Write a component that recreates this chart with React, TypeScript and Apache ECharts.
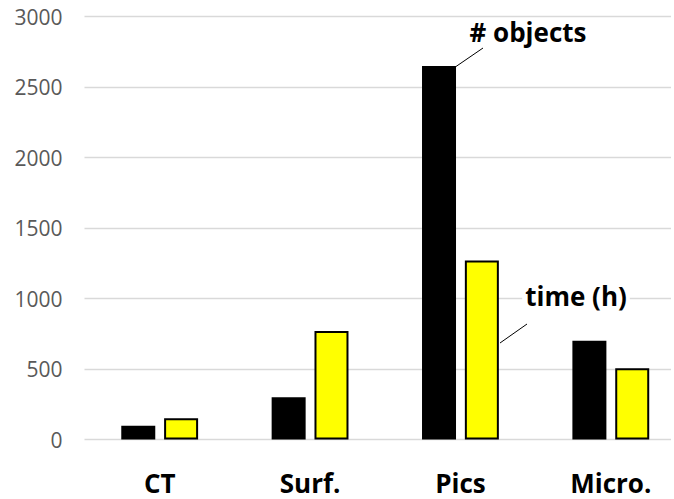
import React, { useEffect, useRef } from "react";
import * as echarts from "echarts";

const categories = ["CT", "Surf.", "Pics", "Micro."];
const objectsValues = [97, 300, 2650, 700];
const timeValues = [150, 770, 1270, 505];
const yTicks = { min: 0, max: 3000, interval: 500 };
const annotations = [
  { text: "# objects", x: 528, y: 32, line: [483, 48, 456, 66.5] },
  { text: "time (h)", x: 576, y: 296, line: [527, 324, 500, 343] },
];

const FONT = "'Open Sans', 'Noto Sans', sans-serif";

export default function App() {
  const ref = useRef<HTMLDivElement>(null);
  useEffect(() => {
    if (!ref.current) return;
    const chart = echarts.init(ref.current, undefined, { renderer: "svg" });
    const graphics: any[] = [];
    annotations.forEach((a) => {
      graphics.push({
        type: "text",
        x: a.x,
        y: a.y,
        z: 100,
        style: {
          text: a.text,
          fill: "#000",
          font: `bold 26px ${FONT}`,
          textAlign: "center",
          textVerticalAlign: "middle",
          backgroundColor: "#fff",
          padding: [0, 3],
        },
      });
      graphics.push({
        type: "line",
        z: 100,
        shape: { x1: a.line[0], y1: a.line[1], x2: a.line[2], y2: a.line[3] },
        style: { stroke: "#000", lineWidth: 1 },
      });
    });
    chart.setOption({
      animation: false,
      backgroundColor: "#fff",
      grid: { left: 84.5, right: 14, top: 16.7, bottom: 59.5, containLabel: false },
      xAxis: {
        type: "category",
        data: categories,
        axisLine: { show: false },
        axisTick: { show: false },
        axisLabel: {
          color: "#000",
          fontFamily: FONT,
          fontWeight: "bold",
          fontSize: 26,
          margin: 30,
        },
      },
      yAxis: {
        type: "value",
        min: yTicks.min,
        max: yTicks.max,
        interval: yTicks.interval,
        axisLine: { show: false },
        axisTick: { show: false },
        splitLine: { lineStyle: { color: "#d9d9d9", width: 1.3 } },
        axisLabel: {
          color: "#595959",
          fontFamily: FONT,
          fontSize: 21,
          margin: 22,
          formatter: (v: number) => String(v),
        },
      },
      series: [
        {
          name: "# objects",
          type: "bar",
          data: objectsValues,
          barWidth: 34,
          barGap: "26%",
          itemStyle: { color: "#000" },
        },
        {
          name: "time (h)",
          type: "bar",
          data: timeValues,
          barWidth: 34,
          itemStyle: { color: "#ffff00", borderColor: "#000", borderWidth: 2 },
        },
      ],
      graphic: graphics,
    });
    return () => chart.dispose();
  }, []);
  return (
    <div
      style={{
        position: "fixed",
        left: 0,
        top: 0,
        width: 671,
        height: 499,
        overflow: "hidden",
        background: "#fff",
      }}
    >
      <div ref={ref} style={{ width: 700, height: 499 }} />
    </div>
  );
}
